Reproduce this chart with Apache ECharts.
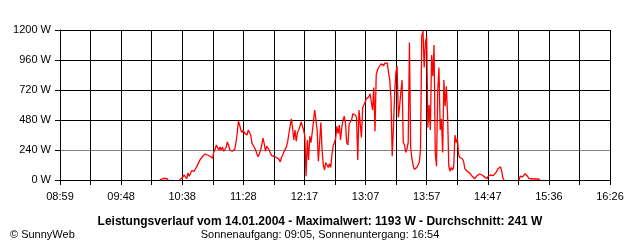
<!DOCTYPE html>
<html>
<head>
<meta charset="utf-8">
<script src="https://cdn.jsdelivr.net/npm/echarts@6/dist/echarts.min.js"></script>
<style>
html,body{margin:0;padding:0;background:#fff;}
#chart{width:640px;height:240px;}
</style>
</head>
<body>
<div id="chart"></div>
<script>
// ---- data ----
const axisStart = '08:59';
const axisEnd = '16:26';
const tickLabels = ['08:59','09:48','10:38','11:28','12:17','13:07','13:57','14:47','15:36','16:26'];
const yTicks = [0, 240, 480, 720, 960, 1200];
const firstSample = '10:20';   // one sample per minute from here
const watts = [
  0,8,10,13,13,13,10,0,
  null,null,null,null,null,null,null,null,
  0,10,14,24,40,30,10,56,30,50,
  75,60,70,85,105,125,140,165,180,190,
  205,208,205,200,195,190,185,175,225,245,
  280,260,240,265,240,265,230,245,260,305,
  280,240,225,230,240,245,300,370,470,440,
  400,380,400,375,385,360,400,405,360,295,
  290,260,240,210,185,210,240,280,335,290,
  230,270,255,240,215,195,200,190,195,180,
  175,165,145,180,200,225,240,265,305,320,
  430,490,420,320,400,310,380,400,430,465,
  430,400,350,30,320,160,350,300,380,470,
  560,560,400,150,140,460,240,120,80,140,
  120,100,130,100,200,270,280,330,430,370,
  440,320,420,480,510,460,300,280,450,450,
  480,530,540,520,500,160,560,560,340,580,
  600,615,650,660,665,690,705,560,740,390,
  840,880,900,910,930,925,915,935,920,935,
  860,800,650,190,420,700,860,910,500,590,
  700,800,300,280,220,250,300,1100,260,170,
  120,85,100,100,120,140,245,1150,1193,900,
  1100,1150,420,600,400,1000,830,1080,220,110,
  720,900,400,490,220,800,590,750,520,110,
  70,100,80,110,360,300,330,200,180,185,
  170,150,90,75,70,60,55,45,30,20,
  10,15,35,45,48,35,40,30,25,22,
  10,30,45,40,48,35,50,55,65,90,
  100,105,70,15,0,
  null,null,null,null,null,null,null,null,null,null,null,
  0,30,15,25,35,50,40,30,12,15,
  10,8,8,8,8,8,8,0
];
const titleText = 'Leistungsverlauf vom 14.01.2004 - Maximalwert: 1193 W - Durchschnitt: 241 W';
const subText = 'Sonnenaufgang: 09:05, Sonnenuntergang: 16:54';
const copyText = '\u00a9 SunnyWeb';

// ---- build ----
function toSec(hm){const p=hm.split(':');return (+p[0])*3600+(+p[1])*60;}
const x0 = toSec(axisStart);
const xMax = toSec(axisEnd) - x0;
const xInterval = xMax / ((tickLabels.length - 1) * 2);
const s0 = toSec(firstSample) - x0;
const seriesData = watts.map((v,i)=>[s0 + i*60, v]);

const font = "'Liberation Sans', Arial, sans-serif";
const chart = echarts.init(document.getElementById('chart'), null, {renderer:'canvas'});
chart.setOption({
  animation:false,
  backgroundColor:'#ffffff',
  textStyle:{fontFamily:font},
  title:[
    {text:titleText,left:'center',top:210,textStyle:{fontFamily:font,fontSize:12,fontWeight:'bold',color:'#000',lineHeight:14}},
    {text:subText,left:'center',top:223,textStyle:{fontFamily:font,fontSize:11,fontWeight:'normal',color:'#000',lineHeight:13}},
    {text:copyText,left:5,top:223,textStyle:{fontFamily:font,fontSize:11,fontWeight:'normal',color:'#000',lineHeight:13}}
  ],
  grid:{left:60,top:30,width:550,height:150,containLabel:false},
  xAxis:{
    type:'value',min:0,max:xMax,interval:xInterval,
    axisLine:{show:true,lineStyle:{color:'#000',width:1}},
    axisTick:{show:true,length:5,lineStyle:{color:'#000'}},
    axisLabel:{margin:11,fontSize:11,color:'#000',fontFamily:font,showMinLabel:true,showMaxLabel:true,
      formatter:function(v){const i=Math.round(v/xInterval);return i%2===0?tickLabels[i/2]:'';}},
    splitLine:{show:true,lineStyle:{color:'#000',width:1}}
  },
  yAxis:{
    type:'value',min:yTicks[0],max:yTicks[yTicks.length-1],interval:yTicks[1]-yTicks[0],
    axisLine:{show:true,lineStyle:{color:'#000',width:1}},
    axisTick:{show:true,length:5,lineStyle:{color:'#000'}},
    axisLabel:{margin:9,fontSize:11,color:'#000',fontFamily:font,formatter:function(v){return v+' W';}},
    splitLine:{show:true,lineStyle:{color:['#000','#808080','#000','#000','#000','#000'],width:1}}
  },
  series:[{
    type:'line',data:seriesData,showSymbol:false,connectNulls:false,
    lineStyle:{color:'#ff0000',width:1.3},itemStyle:{color:'#ff0000'},z:3
  }]
});
</script>
</body>
</html>
